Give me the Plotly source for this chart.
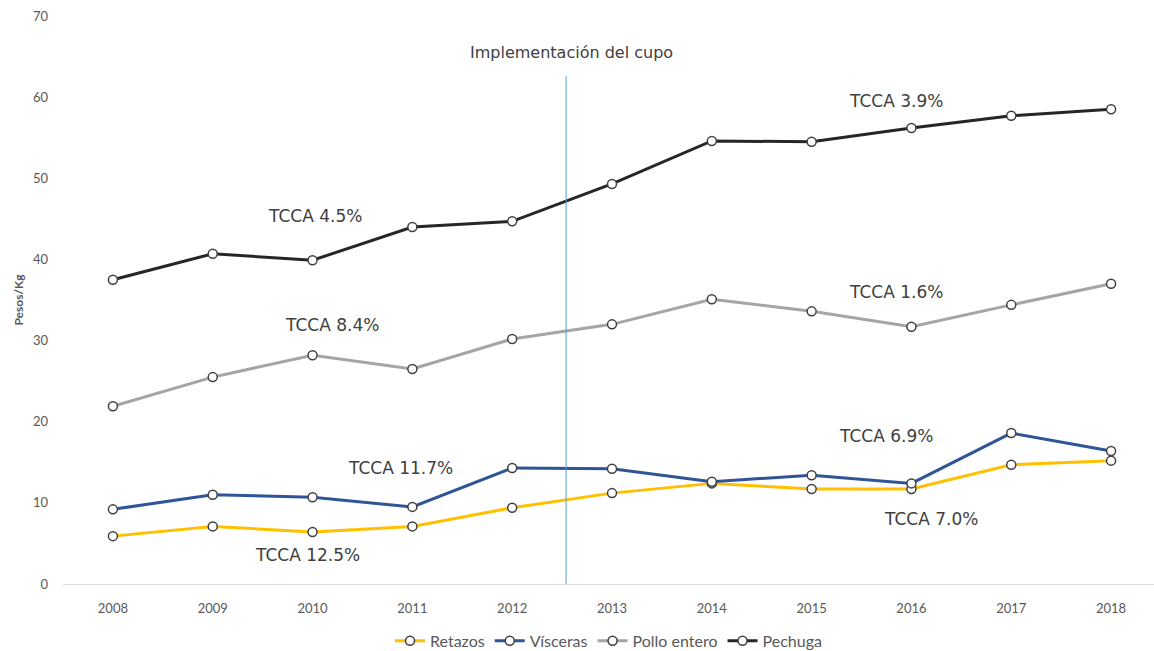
import plotly.graph_objects as go

years = [2008, 2009, 2010, 2011, 2012, 2013, 2014, 2015, 2016, 2017, 2018]
retazos = [5.9, 7.1, 6.4, 7.1, 9.4, 11.2, 12.4, 11.7, 11.7, 14.7, 15.2]
visceras = [9.2, 11.0, 10.7, 9.5, 14.3, 14.2, 12.6, 13.4, 12.4, 18.6, 16.4]
pollo_entero = [21.9, 25.5, 28.2, 26.5, 30.2, 32.0, 35.1, 33.6, 31.7, 34.4, 37.0]
pechuga = [37.5, 40.7, 39.9, 44.0, 44.7, 49.3, 54.6, 54.5, 56.2, 57.7, 58.5]

series_names = ["Retazos", "Vísceras", "Pollo entero", "Pechuga"]
series_colors = ["#FFC000", "#2F5597", "#A5A5A5", "#262626"]
series_values = [retazos, visceras, pollo_entero, pechuga]

cupo_year = 2012.54
cupo_label = "Implementación del cupo"

tcca_labels = ["TCCA 4.5%", "TCCA 3.9%", "TCCA 8.4%", "TCCA 1.6%",
               "TCCA 11.7%", "TCCA 6.9%", "TCCA 12.5%", "TCCA 7.0%"]
tcca_x = [2010.02, 2015.85, 2010.19, 2015.85, 2010.88, 2015.75, 2009.95, 2016.2]
tcca_y = [45.4, 59.5, 31.9, 36.0, 14.3, 18.2, 3.6, 8.0]

fig = go.Figure()
for name, color, vals in zip(series_names, series_colors, series_values):
    fig.add_trace(go.Scatter(
        x=years, y=vals, name=name, mode="lines+markers",
        line=dict(color=color, width=3),
        marker=dict(size=9, color="white", line=dict(color="#404040", width=1.5)),
    ))

fig.add_shape(type="line", x0=cupo_year, x1=cupo_year, y0=0, y1=62.6,
              xref="x", yref="y", line=dict(color="#5B9BD5", width=1))

annot_font = dict(family="DejaVu Sans", size=17, color="#404040")
fig.add_annotation(x=2012.59, y=65.5, text=cupo_label, showarrow=False,
                   font=dict(family="DejaVu Sans", size=16, color="#404040"))
for t, xx, yy in zip(tcca_labels, tcca_x, tcca_y):
    fig.add_annotation(x=xx, y=yy, text=t, showarrow=False, font=annot_font)

fig.update_layout(
    width=1154, height=651,
    margin=dict(l=63, r=0, t=16, b=67, autoexpand=False),
    plot_bgcolor="white", paper_bgcolor="white",
    showlegend=True,
    legend=dict(orientation="h", x=0.5, xanchor="center", y=-0.100, yanchor="middle",
                font=dict(family="Lato", size=16, color="#595959"),
                itemwidth=30, traceorder="normal"),
    font=dict(family="Lato", size=13, color="#595959"),
)
fig.update_xaxes(range=[2007.5, 2018.43], tickmode="array", tickvals=years,
                 ticktext=[str(y) for y in years], showgrid=False,
                 showline=True, linecolor="#D9D9D9", linewidth=1, zeroline=False,
                 ticks="", ticklabelstandoff=12, automargin=False,
                 tickfont=dict(family="Lato", size=13, color="#595959"))
fig.update_yaxes(range=[0, 70], dtick=10, showgrid=False, zeroline=False,
                 showline=False, ticklabelstandoff=14, automargin=False,
                 title=dict(text="<b>Pesos/Kg</b>", standoff=6,
                            font=dict(family="Lato", size=12, color="#595959")),
                 tickfont=dict(family="Lato", size=13, color="#595959"))

fig.write_html("out.html", config={"displayModeBar": False},
               post_script="document.body.style.margin='0';")
